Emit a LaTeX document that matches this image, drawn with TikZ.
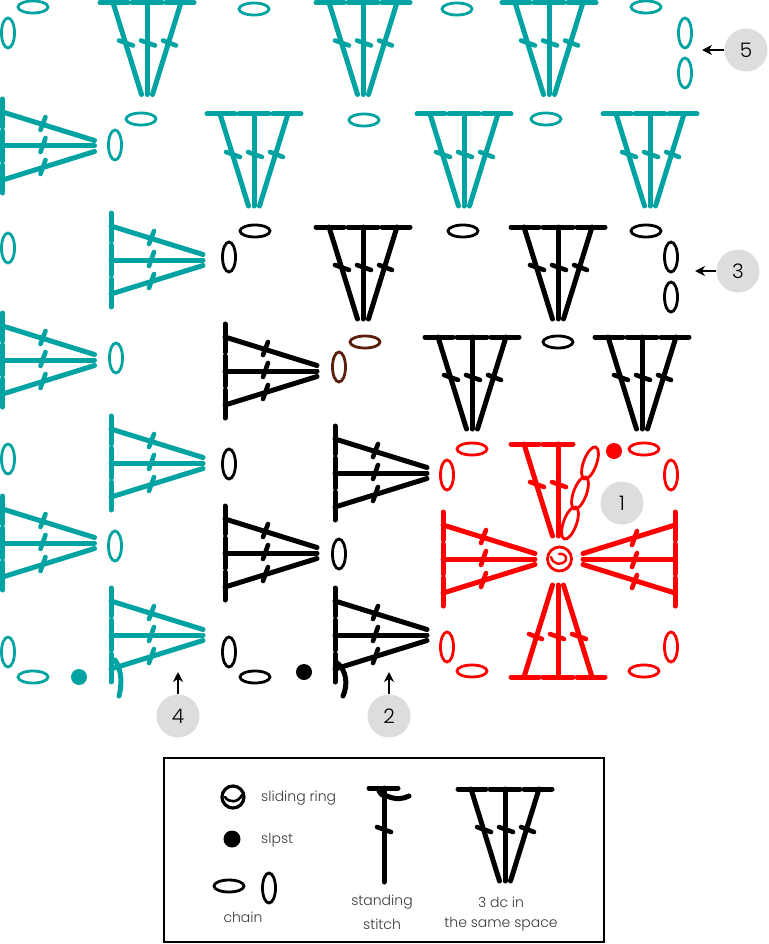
\documentclass[tikz,border=0pt]{standalone}
\usepackage{fontspec}
\setmainfont{Poppins Light}
\usetikzlibrary{arrows.meta}
\definecolor{teal1}{HTML}{00A3A1}
\definecolor{red1}{HTML}{FF0000}
\definecolor{brown1}{HTML}{5A1E0A}
\definecolor{grey1}{HTML}{DDDDDD}
\definecolor{txt}{HTML}{3A3A3A}
\tikzset{
  stitchline/.style={line width=5pt,line cap=round},
  tickline/.style={line width=4.6pt,line cap=round},
  chainloop/.style={line width=2.8pt,fill=none},
  badge/.style={circle,fill=grey1,minimum size=43pt,inner sep=0pt,text=black,font=\fontsize{20}{22}\selectfont},
  lab/.style={text=txt,inner sep=0pt,font=\fontsize{14}{16}\selectfont},
  pointer/.style={line width=2.6pt,-{Stealth[length=10pt,width=10pt]}},
}
% #1 x, #2 y, #3 rotation, #4 colour
\newcommand{\fanbars}[4]{\begin{scope}[shift={(#1,#2)},rotate=#3,#4]
  \draw[stitchline] (-15,0)--(15,0);
  \draw[stitchline] (-34,0)--(-5.5,92);
  \draw[stitchline] (0,0)--(0,92);
  \draw[tickline] (-28,38)--(-14,43);
  \draw[tickline] (-6,38)--(8,43);
  \draw[stitchline] (-47,0)--(-19,0);
  \end{scope}}
\newcommand{\fan}[4]{\fanbars{#1}{#2}{#3}{#4}\begin{scope}[shift={(#1,#2)},rotate=#3,#4]
  \draw[stitchline] (19,0)--(47,0);
  \draw[stitchline] (34,0)--(5.5,92);
  \draw[tickline] (16,38)--(29,43);
  \end{scope}}
\newcommand{\hch}[3]{\draw[chainloop,#3] (#1,#2) ellipse [x radius=15,y radius=6];}
\newcommand{\vch}[3]{\draw[chainloop,#3] (#1,#2) ellipse [x radius=6.5,y radius=15];}
\newcommand{\tch}[3]{\draw[chainloop,#3,rotate around={-20:(#1,#2)}] (#1,#2) ellipse [x radius=6.5,y radius=17];}
\begin{document}
\begin{tikzpicture}[x=1pt,y=-1pt]
\useasboundingbox (0,0) rectangle (768,944);
% teal
\fan{147}{2.5}{0}{teal1}\fan{363}{2.5}{0}{teal1}\fan{549}{2.5}{0}{teal1}
\fan{254}{114}{0}{teal1}\fan{464}{114}{0}{teal1}\fan{650}{114}{0}{teal1}
\fan{2.5}{146}{90}{teal1}\fan{2.5}{360}{90}{teal1}\fan{2.5}{543}{90}{teal1}
\fan{111}{260}{90}{teal1}\fan{111}{463}{90}{teal1}\fan{111}{635}{90}{teal1}
\draw[stitchline,teal1] (115,660) .. controls (122,670) and (122,685) .. (119,696);
\hch{33}{7}{teal1}\vch{8}{33}{teal1}\hch{141}{119}{teal1}\vch{115}{145}{teal1}
\vch{8}{248}{teal1}\vch{116}{358}{teal1}\vch{8}{459}{teal1}\vch{115}{546}{teal1}
\vch{8}{652}{teal1}\hch{33}{677}{teal1}
\fill[teal1] (79,677) circle (8);
\hch{254}{9}{teal1}\hch{457}{9}{teal1}\hch{646}{7}{teal1}\vch{685}{33}{teal1}\vch{685}{73}{teal1}
\hch{364}{120}{teal1}\hch{546}{119}{teal1}
% black
\fan{363}{227}{0}{black}\fan{558}{227}{0}{black}\fan{472}{337}{0}{black}\fan{642}{337}{0}{black}
\fan{225}{371}{90}{black}\fan{225}{553}{90}{black}\fan{335}{473}{90}{black}\fan{335}{635}{90}{black}
\draw[stitchline,black] (336,662) .. controls (347,670) and (348,685) .. (343,696);
\hch{255}{231}{black}\vch{229}{257}{black}\hch{463}{231}{black}\hch{646}{231}{black}
\vch{671}{257}{black}\vch{671}{297}{black}\hch{558}{342}{black}
\hch{365}{342}{brown1}\vch{339}{367}{brown1}
\vch{229}{464}{black}\vch{339}{554}{black}\vch{229}{652}{black}\hch{255}{677}{black}
\fill (304,672) circle (8);
% red
\fanbars{558}{444}{0}{red1}
\fan{443}{559}{90}{red1}\fan{675}{559}{-90}{red1}\fan{558}{677}{180}{red1}
\hch{472}{449}{red1}\vch{447}{475}{red1}\hch{644}{449}{red1}\vch{671}{475}{red1}
\vch{447}{647}{red1}\hch{472}{671}{red1}\hch{644}{671}{red1}\vch{671}{647}{red1}
\tch{590}{463}{red1}\tch{580}{493}{red1}\tch{570}{523}{red1}
\fill[red1] (614,451) circle (8);
\draw[line width=2.8pt,red1] (559.5,559) circle (12);
\draw[line width=2.4pt,red1,line cap=round] (551,557) .. controls (553,565) and (562,566) .. (566,560) .. controls (567,555) and (562,553) .. (559,554);
% badges and pointers
\node[badge] (b5) at (746,50) {5};
\node[badge] (b3) at (738,271) {3};
\node[badge] (b1) at (622,503) {1};
\node[badge] (b4) at (178,716) {4};
\node[badge] (b2) at (389,716) {2};
\coordinate (p5) at (702,50);
\coordinate (p3) at (695,271);
\coordinate (p4) at (178,672);
\coordinate (p2) at (389,672);
\draw[pointer] (b5) -- (p5);
\draw[pointer] (b3) -- (p3);
\draw[pointer] (b4) -- (p4);
\draw[pointer] (b2) -- (p2);
% legend
\draw[line width=2pt] (164,758) rectangle (604,942);
\draw[line width=3.2pt] (233,797) circle (11);
\draw[line width=2.6pt,line cap=round] (225,797) .. controls (229,803) and (238,803) .. (242,795);
\node[lab,anchor=west] (t1) at (261,798) {sliding ring};
\fill (232,839) circle (8.5);
\node[lab,anchor=west] (t2) at (261,840.5) {slpst};
\hch{229}{886}{black}\vch{269}{888}{black}
\node[lab] (t3) at (243,917.5) {chain};
\draw[stitchline] (369,788)--(398,788);
\draw[stitchline] (384,788)--(384,882);
\draw[tickline] (377,827)--(391,832);
\draw[stitchline] (379,791) .. controls (382,797) and (385,795) .. (387,796) .. controls (396,800) and (403,799) .. (409,796);
\node[lab] (t4) at (382,902.5) {standing};
\node[lab] (t5) at (382,924) {stitch};
\fan{505}{789}{0}{black}
\node[lab] (t6) at (501,902.5) {3 dc in};
\node[lab] (t7) at (501,924) {the same space};
\end{tikzpicture}
\end{document}
